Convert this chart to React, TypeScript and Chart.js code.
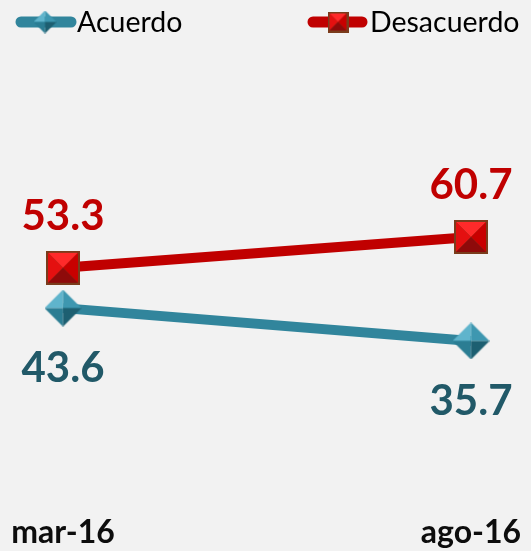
import React, { useEffect, useRef } from "react";
import { Chart, registerables } from "chart.js";
Chart.register(...registerables);

const categories = ["mar-16", "ago-16"];
const seriesNames = ["Acuerdo", "Desacuerdo"];
const acuerdo = [43.6, 35.7];
const desacuerdo = [53.3, 60.7];
const yMin = 0;
const yMax = 100;

const TEAL = "#31859c";
const TEAL_TEXT = "#215968";
const RED = "#c00000";
const BG = "#f2f2f2";
const FONT = "Lato, 'Open Sans', sans-serif";

function makeSquare(size: number): HTMLCanvasElement {
  const c = document.createElement("canvas");
  c.width = size;
  c.height = size;
  const g = c.getContext("2d")!;
  g.fillStyle = "#7a3c1c";
  g.fillRect(0, 0, size, size);
  const b = Math.max(2, Math.round(size / 14));
  const x0 = b, y0 = b, x1 = size - b, y1 = size - b;
  const cx = size / 2, cy = size / 2;
  const tri = (pts: number[][], col: string) => {
    g.beginPath();
    g.moveTo(pts[0][0], pts[0][1]);
    for (let i = 1; i < pts.length; i++) g.lineTo(pts[i][0], pts[i][1]);
    g.closePath();
    g.fillStyle = col;
    g.fill();
  };
  tri([[x0, y0], [x1, y0], [cx, cy]], "#ff2a2a");
  tri([[x0, y0], [x0, y1], [cx, cy]], "#e41010");
  tri([[x1, y0], [x1, y1], [cx, cy]], "#c80000");
  tri([[x0, y1], [x1, y1], [cx, cy]], "#8e0a0a");
  return c;
}

function makeDiamond(size: number): HTMLCanvasElement {
  const c = document.createElement("canvas");
  c.width = size;
  c.height = size;
  const g = c.getContext("2d")!;
  const h = size / 2;
  const T = [h, 0], R = [size, h], B = [h, size], L = [0, h], C = [h, h];
  const tri = (pts: number[][], col: string) => {
    g.beginPath();
    g.moveTo(pts[0][0], pts[0][1]);
    for (let i = 1; i < pts.length; i++) g.lineTo(pts[i][0], pts[i][1]);
    g.closePath();
    g.fillStyle = col;
    g.fill();
  };
  tri([L, T, C], "#5fb4cc");
  tri([T, R, C], "#3e97b0");
  tri([L, B, C], "#2b7d93");
  tri([B, R, C], "#1d5f71");
  return c;
}

export default function App() {
  const ref = useRef<HTMLCanvasElement | null>(null);

  useEffect(() => {
    const canvas = ref.current;
    if (!canvas) return;
    const sq = makeSquare(34);
    const di = makeDiamond(37);
    const sqSmall = makeSquare(21);
    const diSmall = makeDiamond(23);

    const overlay = {
      id: "overlay",
      beforeDraw(chart: any) {
        const ctx = chart.ctx;
        ctx.save();
        ctx.fillStyle = BG;
        ctx.fillRect(0, 0, chart.width, chart.height);
        ctx.restore();
      },
      afterDatasetsDraw(chart: any) {
        const ctx = chart.ctx;
        ctx.save();
        // data labels
        ctx.font = `bold 42px ${FONT}`;
        ctx.textAlign = "center";
        ctx.textBaseline = "alphabetic";
        const metaA = chart.getDatasetMeta(0);
        const metaD = chart.getDatasetMeta(1);
        metaA.data.forEach((p: any, i: number) => {
          ctx.fillStyle = TEAL_TEXT;
          ctx.fillText(acuerdo[i].toFixed(1), p.x, p.y + 74);
        });
        metaD.data.forEach((p: any, i: number) => {
          ctx.fillStyle = RED;
          ctx.fillText(desacuerdo[i].toFixed(1), p.x, p.y - 38);
        });
        // legend
        const ly = 22;
        const items = [
          { x0: 16, x1: 76, mx: 45, color: TEAL, img: diSmall, tx: 77, text: seriesNames[0] },
          { x0: 308, x1: 367, mx: 338, color: RED, img: sqSmall, tx: 370, text: seriesNames[1] },
        ];
        items.forEach((it) => {
          ctx.strokeStyle = it.color;
          ctx.lineWidth = 11;
          ctx.lineCap = "round";
          ctx.beginPath();
          ctx.moveTo(it.x0 + 5, ly);
          ctx.lineTo(it.x1 - 5, ly);
          ctx.stroke();
          ctx.drawImage(it.img, it.mx - it.img.width / 2, ly - it.img.height / 2);
          ctx.fillStyle = "#000000";
          ctx.font = `28.5px ${FONT}`;
          ctx.textAlign = "left";
          ctx.textBaseline = "alphabetic";
          ctx.fillText(it.text, it.tx, 32);
        });
        ctx.restore();
      },
    };

    const chart = new Chart(canvas, {
      type: "line",
      data: {
        labels: categories,
        datasets: [
          {
            label: seriesNames[0],
            data: acuerdo,
            borderColor: TEAL,
            backgroundColor: TEAL,
            borderWidth: 10,
            pointStyle: di as any,
            clip: false as any,
          },
          {
            label: seriesNames[1],
            data: desacuerdo,
            borderColor: RED,
            backgroundColor: RED,
            borderWidth: 10,
            pointStyle: sq as any,
            clip: false as any,
          },
        ],
      },
      options: {
        animation: false,
        responsive: false,
        maintainAspectRatio: false,
        layout: { padding: { top: 73.5, left: 63, right: 60, bottom: 0 } },
        plugins: { legend: { display: false }, tooltip: { enabled: false } },
        scales: {
          x: {
            offset: false,
            grid: { display: false, drawTicks: false },
            border: { display: false },
            ticks: {
              color: "#0d0d0d",
              font: { family: FONT, size: 32, weight: "bold" },
              padding: 24,
              maxRotation: 0,
              autoSkip: false,
            },
            afterFit: (s: any) => {
              s.height = 61.5;
              s.paddingLeft = 0;
              s.paddingRight = 0;
            },
          },
          y: {
            display: false,
            min: yMin,
            max: yMax,
          },
        },
      },
      plugins: [overlay],
    });
    return () => chart.destroy();
  }, []);

  return (
    <div style={{ position: "fixed", left: 0, top: 0, width: 531, height: 551, background: BG }}>
      <canvas ref={ref} width={531} height={551} style={{ display: "block" }} />
    </div>
  );
}
